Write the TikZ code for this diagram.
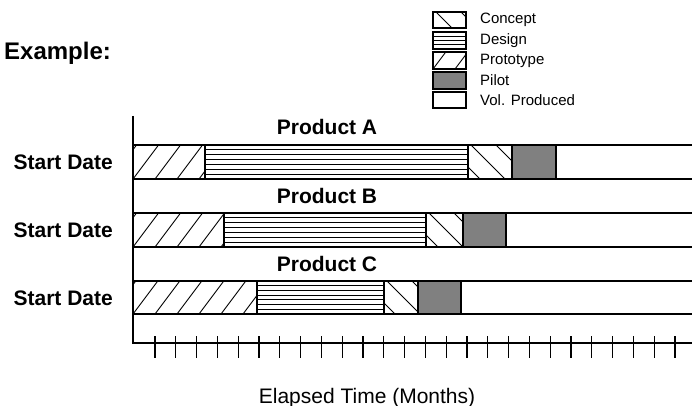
\documentclass[tikz,border=0pt]{standalone}
\usepackage{fontspec}
\setmainfont{Liberation Sans}
\usepackage{tikz}
\definecolor{pilotGray}{RGB}{128,128,128}

\begin{document}
\begin{tikzpicture}[x=1pt,y=-1pt,
  segline/.style={draw=black,line width=1.2pt},
  hatch/.style={black,line width=0.9pt},
  axisline/.style={black,line width=1.4pt},
  tickline/.style={black,line width=1.1pt},
  boldlbl/.style={font=\fontsize{21}{24}\selectfont\bfseries,inner sep=0pt},
  keylbl/.style={font=\fontsize{15}{17}\selectfont,inner sep=0pt,anchor=west}]
  \useasboundingbox (0,0) rectangle (692,406);
  % segment helpers: x-from, x-to, top, bottom
  \newcommand{\protoseg}[4]{%
    \begin{scope}
      \clip (#1,#3) rectangle (#2,#4);
      \foreach \k in {-2,...,12}
        \draw[hatch] ({#1+\k*22},#4) -- ({#1+\k*22+0.75*(#4-#3)},#3);
    \end{scope}
    \draw[segline] (#1,#3) rectangle (#2,#4);}
  \newcommand{\conceptseg}[4]{%
    \begin{scope}
      \clip (#1,#3) rectangle (#2,#4);
      \foreach \k in {-2,...,4}
        \draw[hatch] ({#1+3+\k*25},#3) -- ({#1+3+\k*25+(#4-#3)},#4);
    \end{scope}
    \draw[segline] (#1,#3) rectangle (#2,#4);}
  \newcommand{\designseg}[5]{%
    \foreach \j in {1,...,#5}
      \draw[hatch] (#1,{#3+\j*(#4-#3)/(#5+1)}) -- (#2,{#3+\j*(#4-#3)/(#5+1)});
    \draw[segline] (#1,#3) rectangle (#2,#4);}
  \newcommand{\pilotseg}[4]{%
    \fill[pilotGray] (#1,#3) rectangle (#2,#4);
    \draw[segline] (#1,#3) rectangle (#2,#4);}

  \node[font=\fontsize{24}{28}\selectfont\bfseries,inner sep=0pt,anchor=base west]
    (example) at (4,60) {Example:};

  % Legend
  \conceptseg{433}{466}{12}{28}
  \designseg{433}{466}{32}{49}{3}
  \protoseg{433}{466}{52}{69}
  \pilotseg{433}{466}{72}{89}
  \draw[segline] (433,92) rectangle (466,108);
  \node[keylbl] (keyConcept) at (480,20) {Concept};
  \node[keylbl] (keyDesign) at (480,40.5) {Design};
  \node[keylbl] (keyProto) at (480,60.5) {Prototype};
  \node[keylbl] (keyPilot) at (480,80.5) {Pilot};
  \node[keylbl] (keyVol) at (480,100) {Vol. Produced};

  % Product A
  \protoseg{133}{205}{145}{179}
  \designseg{205}{468}{145}{179}{6}
  \conceptseg{468}{512}{145}{179}
  \pilotseg{512}{556}{145}{179}
  \draw[segline] (556,145) -- (692,145) (556,179) -- (692,179);
  \node[boldlbl,anchor=base] (prodA) at (327,135) {Product A};
  \node[boldlbl,anchor=east] (startA) at (113,162) {Start Date};
  % Product B
  \protoseg{133}{224}{213}{247}
  \designseg{224}{426}{213}{247}{6}
  \conceptseg{426}{463}{213}{247}
  \pilotseg{463}{506}{213}{247}
  \draw[segline] (506,213) -- (692,213) (506,247) -- (692,247);
  \node[boldlbl,anchor=base] (prodB) at (327,203) {Product B};
  \node[boldlbl,anchor=east] (startB) at (113,230) {Start Date};
  % Product C
  \protoseg{133}{257}{281}{314}
  \designseg{257}{384}{281}{314}{6}
  \conceptseg{384}{418}{281}{314}
  \pilotseg{418}{461}{281}{314}
  \draw[segline] (461,281) -- (692,281) (461,314) -- (692,314);
  \node[boldlbl,anchor=base] (prodC) at (327,271) {Product C};
  \node[boldlbl,anchor=east] (startC) at (113,298) {Start Date};

  % time axis
  \draw[axisline] (133,116) -- (133,343) -- (692,343);
  \foreach \t in {0,...,25}
    \draw[tickline] ({155+\t*20.8},336) -- ({155+\t*20.8},358);
  \node[font=\fontsize{21}{24}\selectfont,inner sep=0pt,anchor=base]
    (xlabel) at (367,403) {Elapsed Time (Months)};
\end{tikzpicture}
\end{document}
